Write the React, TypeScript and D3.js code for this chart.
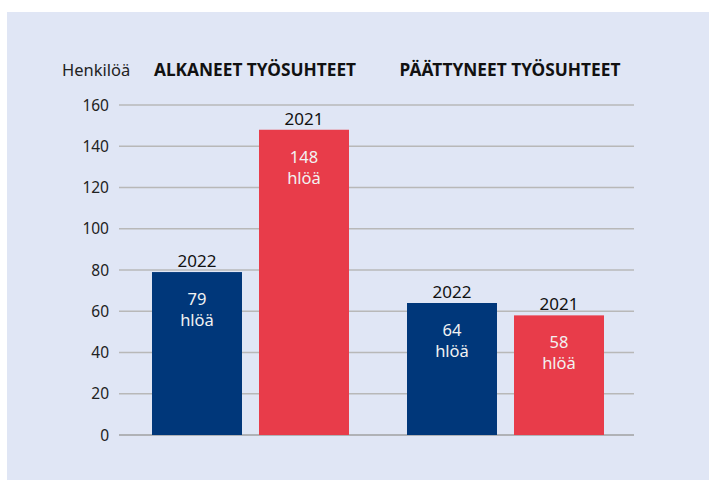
import React from "react";
import * as d3 from "d3";

const groups = ["ALKANEET TYÖSUHTEET", "PÄÄTTYNEET TYÖSUHTEET"];
const seriesNames = ["2022", "2021"];
const values2022 = [79, 64];
const values2021 = [148, 58];
const yTicks = [0, 20, 40, 60, 80, 100, 120, 140, 160];
const unitLabel = "hlöä";
const axisTitle = "Henkilöä";

const W = 709;
const H = 480;
const colors = ["#00377a", "#e83c4a"];
const font = "'Noto Sans', 'Open Sans', sans-serif";

export default function App() {
  const y = d3.scaleLinear().domain([0, 160]).range([435, 105]);
  const x0 = d3.scaleBand<string>().domain(groups).range([122, 632]);
  const x1 = d3
    .scaleBand<string>()
    .domain(seriesNames)
    .range([30, 227])
    .paddingInner(0.159);
  const seriesValues = [values2022, values2021];

  return (
    <svg
      width={W}
      height={H}
      style={{ position: "absolute", left: 0, top: 0, fontFamily: font }}
    >
      <rect x={0} y={0} width={W} height={H} fill="#ffffff" />
      <rect x={7} y={12} width={W - 7} height={H - 12} fill="#e0e6f5" />
      {yTicks.map((t) => (
        <g key={t}>
          <line
            x1={119}
            x2={634}
            y1={y(t)}
            y2={y(t)}
            stroke={t === 0 ? "#a0a0a0" : "#b8b8b8"}
            strokeWidth={1.5}
          />
          <text
            x={109}
            y={y(t)}
            dy="0.36em"
            textAnchor="end"
            fontSize={15.5}
            fill="#222"
          >
            {t}
          </text>
        </g>
      ))}
      <text x={62} y={76} fontSize={16.5} fill="#222">
        {axisTitle}
      </text>
      {groups.map((g) => (
        <text
          key={g}
          x={(x0(g) as number) + x0.bandwidth() / 2 + 5.5}
          y={76}
          textAnchor="middle"
          fontSize={17.3}
          fontWeight="bold"
          fill="#111"
        >
          {g}
        </text>
      ))}
      {groups.map((g, gi) =>
        seriesNames.map((s, si) => {
          const v = seriesValues[si][gi];
          const bx = (x0(g) as number) + (x1(s) as number);
          const bw = x1.bandwidth();
          const top = y(v);
          const cx = bx + bw / 2;
          return (
            <g key={g + s}>
              <rect
                x={bx}
                y={top}
                width={bw}
                height={y(0) - top}
                fill={colors[si]}
              />
              <text
                x={cx}
                y={top - 5}
                textAnchor="middle"
                fontSize={17}
                fill="#111"
              >
                {s}
              </text>
              <text
                x={cx}
                y={top + 33}
                textAnchor="middle"
                fontSize={16.5}
                fill="#f2f2f2"
              >
                {v}
              </text>
              <text
                x={cx}
                y={top + 54}
                textAnchor="middle"
                fontSize={16.5}
                fill="#f2f2f2"
              >
                {unitLabel}
              </text>
            </g>
          );
        })
      )}
    </svg>
  );
}
